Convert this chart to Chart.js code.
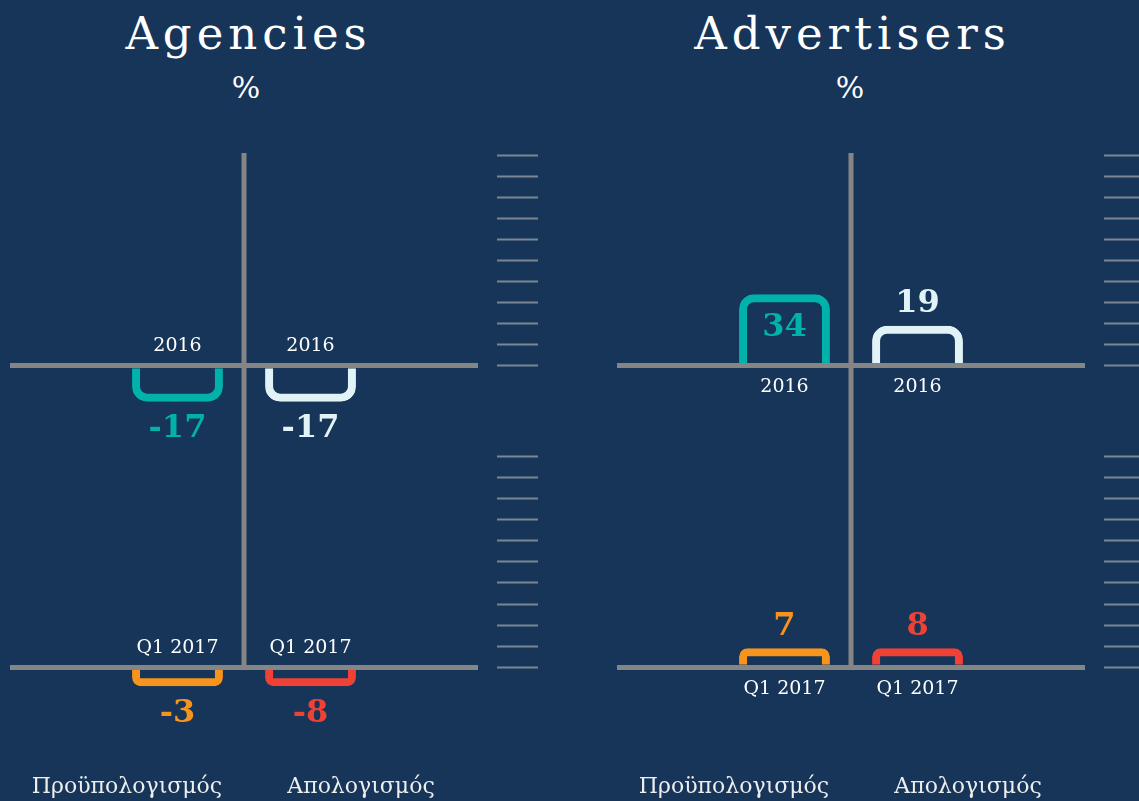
<!DOCTYPE html>
<html>
<head>
<meta charset="utf-8">
<script src="https://cdn.jsdelivr.net/npm/chart.js@4"></script>
<style>
  html, body { margin: 0; width: 1139px; height: 801px; overflow: hidden; background: #163559; }
  body { position: relative; font-family: "DejaVu Serif", serif; color: #ffffff; }
  .panel { position: absolute; top: 0; width: 560px; height: 823px; }
  .title { position: absolute; width: 400px; text-align: center; line-height: 1; }
  .title .main { position: absolute; top: 11px; left: 0; width: 100%; font-size: 45px; letter-spacing: 5px; padding-left: 5px; box-sizing: border-box; }
  .title .unit { position: absolute; top: 73px; left: 0; width: 100%; font-size: 30px; }
</style>
</head>
<body>
<div class="title" style="left:46px"><div class="main">Agencies</div><div class="unit">%</div></div>
<div class="title" style="left:650px"><div class="main">Advertisers</div><div class="unit">%</div></div>
<canvas id="agencies" class="panel" width="560" height="823" style="left:0"></canvas>
<canvas id="advertisers" class="panel" width="560" height="823" style="left:607px"></canvas>
<script>
const categories = ["Προϋπολογισμός", "Απολογισμός"];
const periods = ["2016", "Q1 2017"];
const agenciesBudget = [-17, -3];
const agenciesActual = [-17, -8];
const advertisersBudget = [34, 7];
const advertisersActual = [19, 8];
const budgetColors = ["#00b2a9", "#f7941d"];
const actualColors = ["#e1f3f6", "#ef4136"];

const lineGray = "#858585";
const tickGray = "#7a8693";
const rowAxes = ["yTop", "yBot"];

// value + period labels next to each bar
const barLabels = {
  id: "barLabels",
  afterDatasetsDraw(chart) {
    const ctx = chart.ctx;
    ctx.save();
    ctx.textAlign = "center";
    ctx.textBaseline = "middle";
    chart.data.datasets.forEach((ds, i) => {
      chart.getDatasetMeta(i).data.forEach((bar, j) => {
        const v = ds.data[j];
        if (v === null) return;
        const len = Math.abs(bar.base - bar.y);
        let ty;
        if (v < 0) ty = bar.y + 27;
        else ty = len > 50 ? bar.y + 34 : bar.y - 22;
        ctx.font = 'bold 32px "DejaVu Serif"';
        ctx.fillStyle = ds.borderColor;
        ctx.fillText(String(v), bar.x, ty);
        ctx.font = '19px "DejaVu Serif"';
        ctx.fillStyle = "#ffffff";
        ctx.fillText(ds.period, bar.x, v < 0 ? bar.base - 22 : bar.base + 24);
      });
    });
    ctx.restore();
  }
};

// vertical divider between the two columns
const divider = {
  id: "divider",
  beforeDatasetsDraw(chart) {
    const { ctx, chartArea, scales } = chart;
    const x = (scales.x.getPixelForValue(0) + scales.x.getPixelForValue(1)) / 2;
    ctx.save();
    ctx.strokeStyle = lineGray;
    ctx.lineWidth = 5;
    ctx.beginPath();
    ctx.moveTo(x, chartArea.top - 2);
    ctx.lineTo(x, scales.yBot.getPixelForValue(0));
    ctx.stroke();
    ctx.restore();
  }
};

function rowAxis(min, weight) {
  return {
    type: "linear",
    position: "right",
    stack: "rows",
    stackWeight: weight,
    min: min,
    max: 100,
    stacked: false,
    ticks: { display: false, stepSize: 10 },
    border: { display: false },
    grid: {
      z: 1,
      drawTicks: true,
      tickLength: 60,
      color: c => c.tick && c.tick.value === 0 ? lineGray : "transparent",
      lineWidth: c => c.tick && c.tick.value === 0 ? 5 : 1,
      tickColor: c => c.tick && c.tick.value >= 0 ? tickGray : "transparent",
      tickWidth: 2,
      tickBorderDash: [0, 19, 41, 300]
    }
  };
}

function makeDatasets(budget, actual) {
  const sets = [];
  periods.forEach((p, k) => {
    sets.push({
      period: p, stack: "R", yAxisID: rowAxes[k],
      data: [null, actual[k]], borderColor: actualColors[k]
    });
    sets.push({
      period: p, stack: "L", yAxisID: rowAxes[k],
      data: [budget[k], null], borderColor: budgetColors[k]
    });
  });
  sets.forEach(s => {
    s.backgroundColor = "transparent";
    s.borderWidth = 8;
    s.borderRadius = 15;
    s.borderSkipped = "start";
    s.minBarLength = 19;
    s.categoryPercentage = 0.863;
    s.barPercentage = 0.9;
  });
  return sets;
}

function drawPanel(id, budget, actual) {
  new Chart(document.getElementById(id), {
    type: "bar",
    data: { labels: categories, datasets: makeDatasets(budget, actual) },
    options: {
      responsive: false,
      animation: false,
      layout: { padding: { top: 155, left: 10, right: 22, bottom: 1 } },
      plugins: { legend: { display: false }, tooltip: { enabled: false } },
      scales: {
        x: {
          grid: { display: false, drawTicks: false },
          border: { display: false },
          ticks: { color: "#eeeeee", font: { family: "DejaVu Serif", size: 22 }, padding: 22 }
        },
        yTop: rowAxis(-43, 143),
        yBot: rowAxis(-40, 140)
      }
    },
    plugins: [divider, barLabels]
  });
}

drawPanel("agencies", agenciesBudget, agenciesActual);
drawPanel("advertisers", advertisersBudget, advertisersActual);
</script>
</body>
</html>
